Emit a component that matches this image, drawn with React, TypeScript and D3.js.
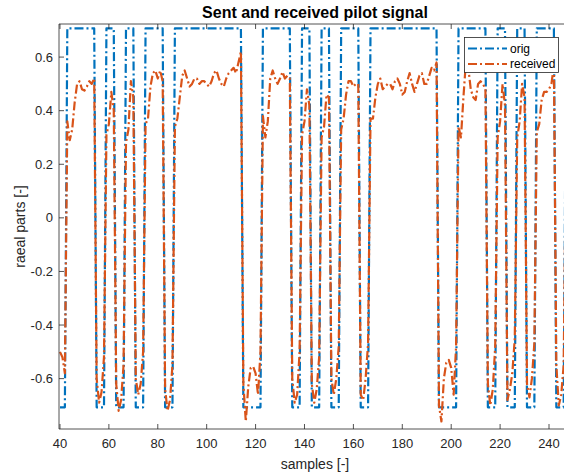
import React from 'react';
import * as d3 from 'd3';

// samples 40 .. 247
const sampleStart = 40;
const amplitude = 0.7071;

// sign of the sent pilot, one entry per sample
const origSign = [
  -1, -1, -1, 1, 1, 1, 1, 1, 1, 1, // 40
  1, 1, 1, 1, 1, -1, -1, -1, -1, 1, // 50
  1, 1, 1, -1, -1, -1, -1, 1, 1, 1, // 60
  1, -1, -1, -1, -1, 1, 1, 1, 1, 1, // 70
  1, 1, 1, -1, -1, -1, -1, 1, 1, 1, // 80
  1, 1, 1, 1, 1, 1, 1, 1, 1, 1, // 90
  1, 1, 1, 1, 1, 1, 1, 1, 1, 1, // 100
  1, 1, 1, 1, 1, -1, -1, -1, -1, -1, // 110
  -1, -1, -1, 1, 1, 1, 1, 1, 1, 1, // 120
  1, 1, 1, 1, 1, -1, -1, -1, -1, 1, // 130
  1, 1, 1, -1, -1, -1, -1, 1, 1, 1, // 140
  1, -1, -1, -1, -1, 1, 1, 1, 1, 1, // 150
  1, 1, 1, -1, -1, -1, -1, 1, 1, 1, // 160
  1, 1, 1, 1, 1, 1, 1, 1, 1, 1, // 170
  1, 1, 1, 1, 1, 1, 1, 1, 1, 1, // 180
  1, 1, 1, 1, 1, -1, -1, -1, -1, -1, // 190
  -1, -1, -1, 1, 1, 1, 1, 1, 1, 1, // 200
  1, 1, 1, 1, 1, -1, -1, -1, -1, 1, // 210
  1, 1, 1, -1, -1, -1, -1, 1, 1, 1, // 220
  1, -1, -1, -1, -1, 1, 1, 1, 1, 1, // 230
  1, 1, 1, -1, -1, -1, -1, 1, // 240
];

// received pilot
const received = [
  -0.5, -0.52, -0.58, 0.36, 0.29, 0.33, 0.43, 0.5, 0.51, 0.48, // 40
  0.475, 0.49, 0.51, 0.5, 0.52, -0.6, -0.69, -0.65, -0.52, 0.31, // 50
  0.35, 0.47, 0.4, -0.62, -0.72, -0.68, -0.55, 0.28, 0.33, 0.51, // 60
  0.45, -0.6, -0.66, -0.62, -0.5, 0.35, 0.37, 0.49, 0.54, 0.55, // 70
  0.52, 0.55, 0.51, -0.64, -0.72, -0.68, -0.55, 0.34, 0.37, 0.45, // 80
  0.53, 0.55, 0.52, 0.49, 0.5, 0.52, 0.52, 0.5, 0.51, 0.51, // 90
  0.5, 0.49, 0.51, 0.54, 0.55, 0.52, 0.5, 0.49, 0.52, 0.54, // 100
  0.55, 0.56, 0.54, 0.58, 0.62, -0.62, -0.76, -0.63, -0.56, -0.555, // 110
  -0.58, -0.66, -0.5, 0.38, 0.3, 0.36, 0.52, 0.55, 0.52, 0.5, // 120
  0.52, 0.545, 0.52, 0.53, 0.52, -0.6, -0.69, -0.66, -0.5, 0.31, // 130
  0.36, 0.48, 0.42, -0.62, -0.69, -0.64, -0.52, 0.3, 0.34, 0.46, // 140
  0.45, -0.6, -0.66, -0.6, -0.48, 0.33, 0.37, 0.46, 0.51, 0.51, // 150
  0.49, 0.5, 0.5, -0.66, -0.68, -0.6, -0.47, 0.37, 0.37, 0.45, // 160
  0.5, 0.52, 0.48, 0.49, 0.5, 0.5, 0.48, 0.51, 0.52, 0.5, // 170
  0.46, 0.47, 0.51, 0.54, 0.5, 0.47, 0.5, 0.53, 0.54, 0.5, // 180
  0.5, 0.53, 0.56, 0.55, 0.58, -0.7, -0.76, -0.6, -0.54, -0.53, // 190
  -0.56, -0.66, -0.48, 0.34, 0.3, 0.45, 0.58, 0.56, 0.48, 0.45, // 200
  0.44, 0.5, 0.51, 0.5, 0.48, -0.62, -0.7, -0.64, -0.48, 0.3, // 210
  0.36, 0.5, 0.42, -0.68, -0.64, -0.58, -0.45, 0.3, 0.36, 0.5, // 220
  0.45, -0.62, -0.67, -0.6, -0.47, 0.32, 0.35, 0.44, 0.47, 0.47, // 230
  0.48, 0.5, 0.57, -0.55, -0.7, -0.66, -0.55, 0.3, // 240
];

const xTicks = [40, 60, 80, 100, 120, 140, 160, 180, 200, 220, 240];
const yTicks = [-0.6, -0.4, -0.2, 0, 0.2, 0.4, 0.6];
const seriesNames = ['orig', 'received'];

const W = 564;
const H = 475;
const left = 59;
const right = 571.5;
const top = 24;
const bottom = 429;

const axisColor = '#262626';
const colors = ['#0072BD', '#D95319'];
const dash = '9,3,2,3';
const font = '"Liberation Sans", Arial, Helvetica, sans-serif';

export default function App() {
  const x = d3.scaleLinear().domain([39.6, 249.2]).range([left, right]);
  const y = d3.scaleLinear().domain([-0.788, 0.7235]).range([bottom, top]);

  const samples = origSign.map((_, i) => sampleStart + i);
  const orig = origSign.map((s) => s * amplitude);

  const line = d3
    .line<number>()
    .x((_, i) => x(samples[i]))
    .y((d) => y(d));

  const series = [orig, received];

  return (
    <svg
      width={W}
      height={H}
      style={{ position: 'absolute', left: 0, top: 0, background: '#fff', fontFamily: font }}
    >
      <rect x={0} y={0} width={W} height={H} fill="#fff" />
      <defs>
        <clipPath id="plot">
          <rect x={left} y={top} width={right - left} height={bottom - top} />
        </clipPath>
      </defs>

      {/* data */}
      <g clipPath="url(#plot)">
        {series.map((d, k) => (
          <path
            key={k}
            d={line(d) || ''}
            fill="none"
            stroke={colors[k]}
            strokeWidth={2.2}
            strokeDasharray={dash}
            strokeLinejoin="round"
          />
        ))}
      </g>

      {/* box */}
      <line x1={left} x2={right} y1={bottom} y2={bottom} stroke={axisColor} strokeWidth={0.8} />
      <line x1={left} x2={right} y1={top} y2={top} stroke={axisColor} strokeWidth={0.8} />
      <line x1={left} x2={left} y1={top} y2={bottom} stroke={axisColor} strokeWidth={0.8} />

      {/* x ticks */}
      {xTicks.map((t) => (
        <g key={t}>
          <line x1={x(t)} x2={x(t)} y1={bottom} y2={bottom - 5} stroke={axisColor} strokeWidth={0.8} />
          <line x1={x(t)} x2={x(t)} y1={top} y2={top + 5} stroke={axisColor} strokeWidth={0.8} />
          <text x={x(t)} y={bottom + 19} textAnchor="middle" fontSize={13} fill={axisColor}>
            {t}
          </text>
        </g>
      ))}

      {/* y ticks */}
      {yTicks.map((t) => (
        <g key={t}>
          <line x1={left} x2={left + 5} y1={y(t)} y2={y(t)} stroke={axisColor} strokeWidth={0.8} />
          <text x={left - 6} y={y(t) + 4.5} textAnchor="end" fontSize={13} fill={axisColor}>
            {t === 0 ? '0' : d3.format('.1f')(t).replace('−', '-')}
          </text>
        </g>
      ))}

      {/* labels */}
      <text x={315} y={17.5} textAnchor="middle" fontSize={16} fontWeight="bold" fill="#000">
        Sent and received pilot signal
      </text>
      <text x={315} y={469} textAnchor="middle" fontSize={14} fill={axisColor}>
        samples [-]
      </text>
      <text
        transform={`translate(25,${(top + bottom) / 2}) rotate(-90)`}
        textAnchor="middle"
        fontSize={14}
        fill={axisColor}
      >
        raeal parts [-]
      </text>

      {/* legend */}
      <g>
        <rect x={464.5} y={37.5} width={94} height={35} fill="#fff" stroke={axisColor} strokeWidth={0.8} />
        {seriesNames.map((name, k) => (
          <g key={name}>
            <line
              x1={468}
              x2={507}
              y1={48.5 + k * 15.5}
              y2={48.5 + k * 15.5}
              stroke={colors[k]}
              strokeWidth={2.2}
              strokeDasharray={dash}
            />
            <text x={510} y={52.5 + k * 15.5} fontSize={12} fill="#000">
              {name}
            </text>
          </g>
        ))}
      </g>
    </svg>
  );
}
